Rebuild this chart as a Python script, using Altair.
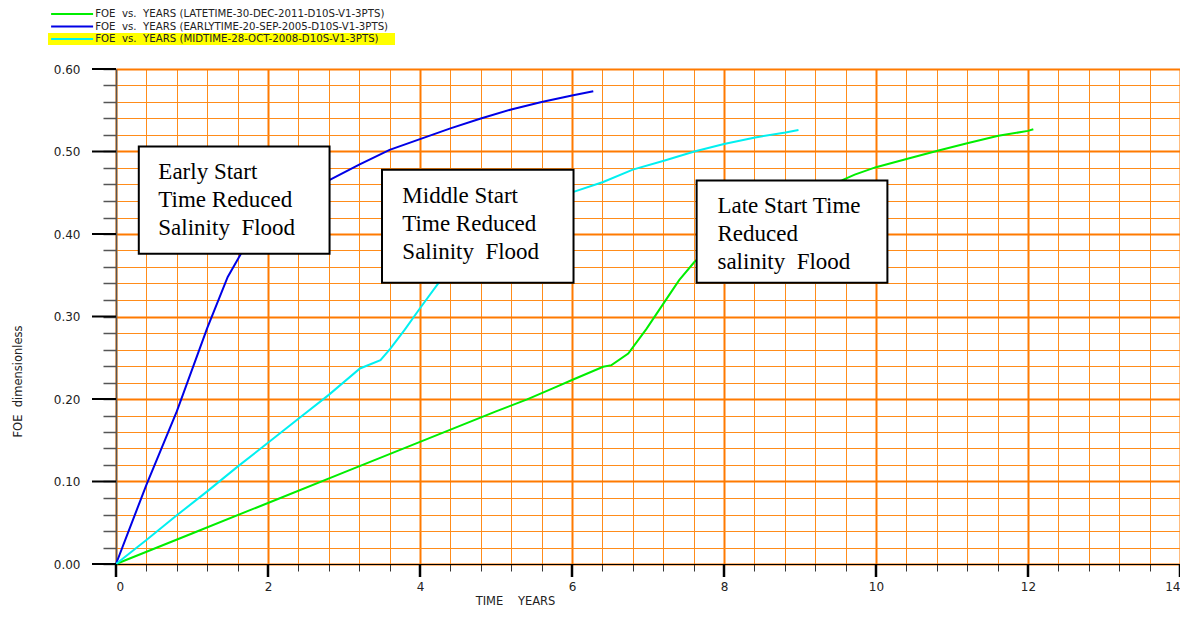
import altair as alt
import pandas as pd

NB = "\u00a0"

# ---------------- data ----------------
early_t = [0, 0.2, 0.4, 0.8, 1.2, 1.47, 1.65, 2.0, 2.4, 2.8, 3.2, 3.6, 4.0, 4.4, 4.8, 5.2, 5.6, 6.0, 6.28]
early_v = [0, 0.048, 0.096, 0.185, 0.286, 0.348, 0.377, 0.414, 0.443, 0.465, 0.484, 0.502, 0.515, 0.528,
           0.540, 0.551, 0.560, 0.568, 0.573]

mid_t = [0, 0.4, 0.8, 1.2, 1.6, 2.0, 2.4, 2.8, 3.21, 3.48, 3.61, 3.8, 4.0, 4.24, 4.6, 5.0, 5.4, 5.7,
         6.02, 6.41, 6.8, 7.22, 7.61, 8.0, 8.41, 8.81, 8.98]
mid_v = [0, 0.029, 0.059, 0.088, 0.118, 0.147, 0.176, 0.205, 0.237, 0.247, 0.261, 0.284, 0.310, 0.340,
         0.376, 0.404, 0.425, 0.439, 0.451, 0.463, 0.478, 0.489, 0.500, 0.509, 0.517, 0.523, 0.526]

late_t = [0, 1.0, 2.0, 3.0, 4.0, 5.0, 5.41, 5.8, 6.0, 6.41, 6.52, 6.74, 6.98, 7.22, 7.41, 7.61, 8.0, 8.4,
          8.8, 9.2, 9.55, 9.72, 10.0, 10.39, 10.81, 11.2, 11.61, 12.0, 12.07]
late_v = [0, 0.037, 0.074, 0.111, 0.148, 0.185, 0.1996, 0.215, 0.223, 0.239, 0.241, 0.255, 0.285, 0.318,
          0.344, 0.366, 0.398, 0.422, 0.440, 0.454, 0.465, 0.472, 0.481, 0.4905, 0.501, 0.510, 0.519,
          0.525, 0.527]

series_names = [
    f"FOE{NB}{NB}vs.{NB}{NB}YEARS{NB}(LATETIME-30-DEC-2011-D10S-V1-3PTS)",
    f"FOE{NB}{NB}vs.{NB}{NB}YEARS{NB}(EARLYTIME-20-SEP-2005-D10S-V1-3PTS)",
    f"FOE{NB}{NB}vs.{NB}{NB}YEARS{NB}(MIDTIME-28-OCT-2008-D10S-V1-3PTS)",
]
series_colors = ["#00ee00", "#0000e6", "#00f0f0"]

x_ticks = [round(i * 0.4, 1) for i in range(36)]
y_ticks = [round(i * 0.02, 2) for i in range(31)]
x_major = [0, 2, 4, 6, 8, 10, 12, 14]
y_major = [0.0, 0.1, 0.2, 0.3, 0.4, 0.5, 0.6]

# annotation boxes (data coordinates)
box_x0 = [0.30, 3.50, 7.64]
box_x1 = [2.81, 6.02, 10.15]
box_y0 = [0.506, 0.478, 0.465]
box_y1 = [0.376, 0.341, 0.341]

note_lines = [
    "Early Start", "Time Reduced", f"Salinity{NB}{NB}Flood",
    "Middle Start", "Time Reduced", f"Salinity{NB}{NB}Flood",
    "Late Start Time", "Reduced", f"salinity{NB}{NB}Flood",
]
note_t = [0.557, 0.557, 0.557, 3.768, 3.768, 3.768, 7.914, 7.914, 7.914]
note_v = [0.4667, 0.4327, 0.3988, 0.4376, 0.4036, 0.3697, 0.4255, 0.3915, 0.3576]

# ---------------- tables ----------------
rows = []
for name, ts, vs in zip(series_names, [late_t, early_t, mid_t], [late_v, early_v, mid_v]):
    for i, (t, v) in enumerate(zip(ts, vs)):
        rows.append({"series": name, "t": t, "v": v, "order": i})
df = pd.DataFrame(rows)

W, H = 1064, 495

X_MAJ = "abs(datum.value/2 - round(datum.value/2)) < 0.001"
Y_MAJ = "abs(datum.value*10 - round(datum.value*10)) < 0.001"

xscale = alt.Scale(domain=[0, 14], nice=False, zero=False)
yscale = alt.Scale(domain=[0, 0.6], nice=False, zero=False)

x_axis = alt.Axis(
    values=x_ticks, title=f"TIME{NB}{NB}{NB}{NB}YEARS",
    labelExpr=f"{X_MAJ} ? format(datum.value, 'd') : ''",
    labelFlush=True, labelOverlap=False,
    tickSize=7, tickColor="#333333", tickWidth=1,
    domainColor="#000000", domainWidth=1,
    grid=True,
    gridColor={"condition": {"test": X_MAJ, "value": "#ff7a00"}, "value": "#ff8c1a"},
    gridWidth={"condition": {"test": X_MAJ, "value": 2}, "value": 1},
    gridOpacity=1,
    labelPadding=10, labelFont="DejaVu Sans", labelFontSize=12, labelColor="#222222",
    titleFont="DejaVu Sans", titleFontSize=11.5, titleFontWeight="normal", titleColor="#222222",
    titleX=399, titleY=37, titleAlign="center", titleBaseline="middle",
)
y_axis = alt.Axis(
    values=y_ticks, title=f"FOE{NB}{NB}dimensionless",
    labelExpr=f"{Y_MAJ} ? format(datum.value, '.2f') : ''",
    labelOverlap=False,
    tickSize=13, tickColor="#555555", tickWidth=1.5,
    domainColor="#555555", domainWidth=1.5,
    grid=True,
    gridColor={"condition": {"test": Y_MAJ, "value": "#ff7a00"}, "value": "#ff8c1a"},
    gridWidth={"condition": {"test": Y_MAJ, "value": 2}, "value": 1},
    gridOpacity=1,
    labelPadding=23, labelFont="DejaVu Sans", labelFontSize=12, labelColor="#222222",
    titleFont="DejaVu Sans", titleFontSize=11.5, titleFontWeight="normal", titleColor="#222222",
    titleX=-98, titleY=312, titleAngle=270, titleAlign="center", titleBaseline="middle",
)

legend = alt.Legend(
    title=None, orient="none", legendX=-49, legendY=-60,
    symbolType="M-21,0H21", symbolSize=4, symbolStrokeWidth=2,
    labelFont="DejaVu Sans", labelFontSize=10.2, labelColor="#222222",
    labelOffset=18, rowPadding=1.5, padding=0, labelLimit=0,
)

# yellow highlight behind third legend entry
hl = alt.Chart(pd.DataFrame({"k": [0]})).mark_rect(color="#ffff00").encode(
    x=alt.value(-68), x2=alt.value(279), y=alt.value(-36), y2=alt.value(-24)
)

lines = alt.Chart(df).mark_line(strokeWidth=2).encode(
    x=alt.X("t:Q", scale=xscale, axis=x_axis),
    y=alt.Y("v:Q", scale=yscale, axis=y_axis),
    color=alt.Color("series:N", scale=alt.Scale(domain=series_names, range=series_colors),
                    sort=series_names, legend=legend),
    order="order:Q",
)

ymaj = alt.Chart(pd.DataFrame({"v": y_major})).mark_rule(color="#000000", strokeWidth=2).encode(
    y=alt.Y("v:Q", scale=yscale, axis=y_axis), x=alt.value(-24), x2=alt.value(0)
)
xmaj = alt.Chart(pd.DataFrame({"t": x_major})).mark_rule(color="#000000", strokeWidth=2.5).encode(
    x=alt.X("t:Q", scale=xscale, axis=x_axis), y=alt.value(H), y2=alt.value(H + 13)
)

box_df = pd.DataFrame({"t": box_x0, "t1": box_x1, "v": box_y0, "v1": box_y1})
boxes = alt.Chart(box_df).mark_rect(fill="white", stroke="black", strokeWidth=2).encode(
    x=alt.X("t:Q", scale=xscale, axis=x_axis), x2="t1",
    y=alt.Y("v:Q", scale=yscale, axis=y_axis), y2="v1",
)

note_df = pd.DataFrame({"t": note_t, "v": note_v, "label": note_lines})
notes = alt.Chart(note_df).mark_text(
    align="left", baseline="alphabetic", font="Liberation Serif", fontSize=23, color="black"
).encode(
    x=alt.X("t:Q", scale=xscale, axis=x_axis),
    y=alt.Y("v:Q", scale=yscale, axis=y_axis),
    text="label:N",
)

chart = alt.layer(hl, lines, boxes, notes, ymaj, xmaj).properties(
    width=W, height=H,
    autosize=alt.AutoSizeParams(type="none"),
    padding={"left": 108, "top": 61, "right": 0, "bottom": 47},
).configure_view(stroke=None)

chart.save("out.html", embed_options={"renderer": "svg", "actions": False})
